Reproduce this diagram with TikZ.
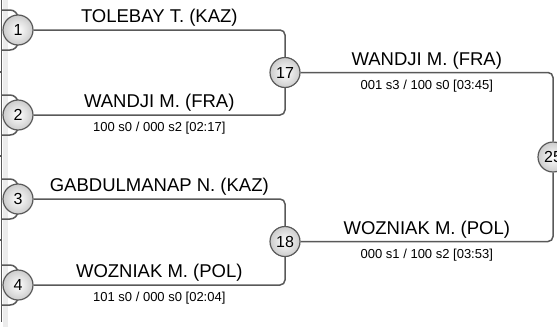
\documentclass[tikz,border=0pt]{standalone}
\usepackage{fontspec}
\setmainfont{Liberation Sans}
\usetikzlibrary{positioning}
\definecolor{wire}{HTML}{595959}

\begin{document}
\begin{tikzpicture}[x=1pt,y=-1pt,
    wire/.style={draw=wire, line width=1.5pt, rounded corners=5pt},
    bout/.style={circle, draw=wire, line width=1.2pt, inner color=white, outer color=gray!40,
                 minimum size=30pt, inner sep=0pt, font=\fontsize{16}{16}\selectfont},
    athlete/.style={anchor=base, yshift=7.5pt, inner sep=0pt, font=\fontsize{18.5}{20}\selectfont},
    score/.style={anchor=base, yshift=-16.5pt, inner sep=0pt, font=\fontsize{13}{14}\selectfont}]
\useasboundingbox (0,0) rectangle (557,327);
% previous round, cut off at the left
\fill[gray!15] (2.5,0) rectangle (8,327);
\draw[wire, rounded corners=0pt] (1.5,0) -- (1.5,322);
\foreach \y in {72,156,240} \draw[wire] (0,\y) -- (1.5,\y);
\foreach \y in {30,115,199,285} {
  \draw[wire, rounded corners=8pt] (1.5,\y-20) -| (18,\y);
  \draw[wire, rounded corners=8pt] (1.5,\y+20) -| (18,\y);
}
% bouts
\node[bout] (m1) at (18,30) {1};
\node[bout] (m2) at (18,115) {2};
\node[bout] (m3) at (18,199) {3};
\node[bout] (m4) at (18,285) {4};
\node[bout] (m17) at (285,72.5) {17};
\node[bout] (m18) at (285,241.5) {18};
\node[bout] (m25) at (553,157) {25};
% round 1
\draw[wire] (m1) -| node[athlete, pos=0.25] (a1) {TOLEBAY T. (KAZ)} (m17);
\draw[wire] (m2) -| node[athlete, pos=0.25] (a2) {WANDJI M. (FRA)}
                    node[score, pos=0.25] (s17) {100 s0 / 000 s2 [02:17]} (m17);
\draw[wire] (m3) -| node[athlete, pos=0.25] (a3) {GABDULMANAP N. (KAZ)} (m18);
\draw[wire] (m4) -| node[athlete, pos=0.25] (a4) {WOZNIAK M. (POL)}
                    node[score, pos=0.25] (s18) {101 s0 / 000 s0 [02:04]} (m18);
% round 2
\draw[wire] (m17) -| node[athlete, pos=0.25] (a17) {WANDJI M. (FRA)}
                     node[score, pos=0.25] (s25a) {001 s3 / 100 s0 [03:45]} (m25);
\draw[wire] (m18) -| node[athlete, pos=0.25] (a18) {WOZNIAK M. (POL)}
                     node[score, pos=0.25] (s25b) {000 s1 / 100 s2 [03:53]} (m25);
\end{tikzpicture}
\end{document}
